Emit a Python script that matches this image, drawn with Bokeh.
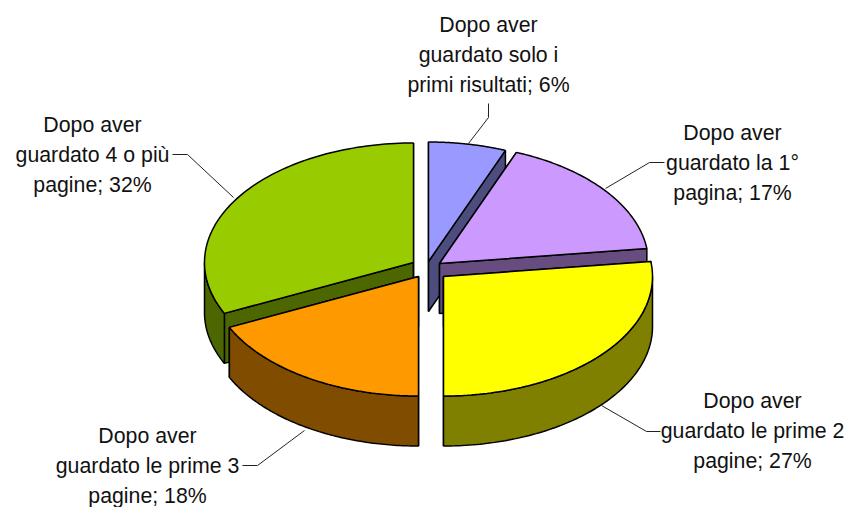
import numpy as np
from bokeh.plotting import figure
from bokeh.models import Range1d
from bokeh.core.properties import value
from bokeh.embed import file_html
from bokeh.resources import INLINE

# data
categories = ["Dopo aver guardato solo i primi risultati", "Dopo aver guardato la 1° pagina",
              "Dopo aver guardato le prime 2 pagine", "Dopo aver guardato le prime 3 pagine",
              "Dopo aver guardato 4 o più pagine"]
percent = [6, 17, 27, 18, 32]

# style / layout
top_colors = ["#9999FF", "#CC99FF", "#FFFF00", "#FF9900", "#99CC00"]
side_colors = ["#4C4C7F", "#664C7F", "#7F7F00", "#7F4C00", "#4C6600"]
apex_x = [428, 439, 443, 418, 413]
apex_y = [261, 263, 276, 276, 262]
RX, RY, DEPTH = 209, 119.5, 50
draw_order = [0, 1, 4, 3, 2]

label_lines = [["Dopo aver", "guardato solo i", "primi risultati; 6%"],
               ["Dopo aver", "guardato la 1°", "pagina; 17%"],
               ["Dopo aver", "guardato le prime 2", "pagine; 27%"],
               ["Dopo aver", "guardato le prime 3", "pagine; 18%"],
               ["Dopo aver", "guardato 4 o più", "pagine; 32%"]]
label_x = [488, 732, 752, 147, 92]
label_y = [24, 132, 400, 435, 124]
LINE_H = 30
leader_x = [[488, 488, 468], [664, 649, 605], [660, 646, 601], [242, 257, 304], [172, 187, 233]]
leader_y = [[103, 117, 143], [162, 162, 188], [431, 431, 405], [465, 465, 430], [154, 154, 197]]

p = figure(width=848, height=507, output_backend="svg", toolbar_location=None,
           x_range=Range1d(0, 848), y_range=Range1d(507, 0),
           min_border=0, outline_line_color=None, background_fill_color="white")
p.xaxis.visible = False
p.yaxis.visible = False
p.grid.visible = False

edges = np.cumsum([0] + percent) / sum(percent) * 2 * np.pi

def arc(i, a0, a1):
    t = np.linspace(a0, a1, 90)
    return apex_x[i] + RX * np.sin(t), apex_y[i] - RY * np.cos(t)

def face(xs, ys, color):
    p.patch(list(xs), list(ys), fill_color=color, line_color="black", line_width=1.5)

for i in draw_order:
    a0, a1 = edges[i], edges[i + 1]
    ax, ay = apex_x[i], apex_y[i]
    # radial side faces
    for a in (a0, a1):
        ex, ey = ax + RX * np.sin(a), ay - RY * np.cos(a)
        face([ax, ex, ex, ax], [ay, ey, ey + DEPTH, ay + DEPTH], side_colors[i])
    # outer wall, front half only
    lo, hi = max(a0, np.pi / 2), min(a1, 3 * np.pi / 2)
    if hi > lo:
        x, y = arc(i, lo, hi)
        face(np.r_[x, x[::-1]], np.r_[y, y[::-1] + DEPTH], side_colors[i])
    # top
    x, y = arc(i, a0, a1)
    face(np.r_[ax, x], np.r_[ay, y], top_colors[i])

for lx, ly in zip(leader_x, leader_y):
    p.line(lx, ly, line_color="#222222", line_width=1)

for i, lines in enumerate(label_lines):
    xs = [label_x[i]] * len(lines)
    ys = [label_y[i] + k * LINE_H for k in range(len(lines))]
    p.text(xs, ys, text=lines, text_align="center", text_baseline="middle",
           text_font=value("Liberation Sans"), text_font_size="21.3px", text_color="#111111")

open("out.html", "w").write(file_html(p, INLINE))
